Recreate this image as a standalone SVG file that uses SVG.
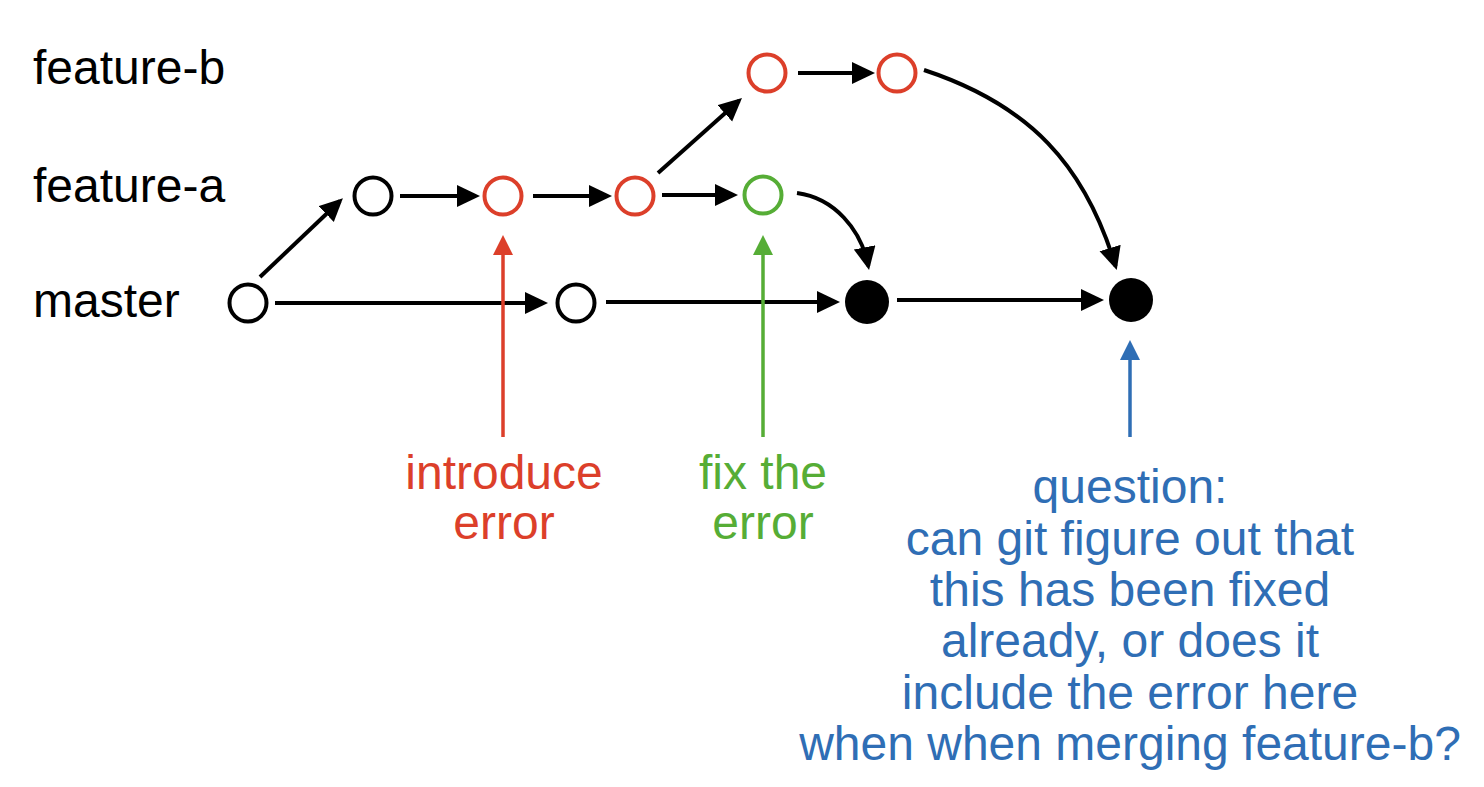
<svg xmlns="http://www.w3.org/2000/svg" width="1484" height="787" viewBox="0 0 1484 787">
<style>
  text { font-family: "Liberation Sans", Arial, sans-serif; font-size: 48px; }
  .lbl { fill: #000; }
  .red { fill: #DC3F2A; }
  .green { fill: #56AD36; }
  .blue { fill: #2F6EB5; }
  .node { fill: #fff; stroke-width: 4; }
  .k { stroke: #000; }
  .r { stroke: #DC3F2A; }
  .g { stroke: #56AD36; }
  .filled { fill: #000; }
  .edge { fill: none; stroke: #000; stroke-width: 4; marker-end: url(#ah); }
  .ptr { fill: none; stroke-width: 3.5; }
</style>
<defs>
  <marker id="ah" markerUnits="userSpaceOnUse" markerWidth="24" markerHeight="24" refX="19" refY="11" orient="auto">
    <path d="M0,0 L23,11 L0,22 z" fill="#000"/>
  </marker>
  <marker id="ahr" markerUnits="userSpaceOnUse" markerWidth="22" markerHeight="22" refX="16" refY="10" orient="auto">
    <path d="M0,0 L20,10 L0,20 z" fill="#DC3F2A"/>
  </marker>
  <marker id="ahg" markerUnits="userSpaceOnUse" markerWidth="22" markerHeight="22" refX="16" refY="10" orient="auto">
    <path d="M0,0 L20,10 L0,20 z" fill="#56AD36"/>
  </marker>
  <marker id="ahb" markerUnits="userSpaceOnUse" markerWidth="22" markerHeight="22" refX="16" refY="10" orient="auto">
    <path d="M0,0 L20,10 L0,20 z" fill="#2F6EB5"/>
  </marker>
</defs>

<g id="branch-labels">
  <text class="lbl" x="33" y="84">feature-b</text>
  <text class="lbl" x="33" y="202">feature-a</text>
  <text class="lbl" x="33" y="317">master</text>
</g>

<g id="connectors">
  <path class="edge" d="M260,277 L340,201"/>
  <path class="edge" d="M400,196 L476,196"/>
  <path class="edge" d="M533,196 L608,196"/>
  <path class="edge" d="M662,195 L734,195"/>
  <path class="edge" d="M658,173 L739,100.7"/>
  <path class="edge" d="M798,73 L871,73"/>
  <path class="edge" d="M275,303 L544,303"/>
  <path class="edge" d="M606,302 L836,302"/>
  <path class="edge" d="M897,300 L1100,300"/>
  <path class="edge" d="M797,193 C834,198 861,229 868.3,266"/>
  <path class="edge" d="M924,70 C1030,105 1085,165 1115.6,266.2"/>
  <path class="ptr" stroke="#DC3F2A" marker-end="url(#ahr)" d="M503,437 L503,239"/>
  <path class="ptr" stroke="#56AD36" marker-end="url(#ahg)" d="M763,437 L763,239"/>
  <path class="ptr" stroke="#2F6EB5" marker-end="url(#ahb)" d="M1130,437 L1130,344"/>
</g>

<g id="node-m1"><circle class="node k" cx="248" cy="303" r="18.5"/></g>
<g id="node-m2"><circle class="node k" cx="576" cy="303" r="18.5"/></g>
<g id="node-a1"><circle class="node k" cx="373" cy="196" r="18.5"/></g>
<g id="node-a2"><circle class="node r" cx="503" cy="196" r="18.5"/></g>
<g id="node-a3"><circle class="node r" cx="635" cy="196" r="18.5"/></g>
<g id="node-a4"><circle class="node g" cx="763" cy="195" r="18.5"/></g>
<g id="node-b1"><circle class="node r" cx="767" cy="73" r="18.5"/></g>
<g id="node-b2"><circle class="node r" cx="897" cy="73" r="18.5"/></g>
<g id="node-merge1"><circle class="filled" cx="867" cy="302" r="22"/></g>
<g id="node-merge2"><circle class="filled" cx="1131" cy="300" r="22"/></g>

<g id="note-introduce">
  <text class="red" x="504" y="489" text-anchor="middle">introduce</text>
  <text class="red" x="504" y="539" text-anchor="middle">error</text>
</g>
<g id="note-fix">
  <text class="green" x="763" y="489" text-anchor="middle">fix the</text>
  <text class="green" x="763" y="539" text-anchor="middle">error</text>
</g>
<g id="note-question">
  <text class="blue" x="1130" y="503" text-anchor="middle">question:</text>
  <text class="blue" x="1130" y="555" text-anchor="middle">can git figure out that</text>
  <text class="blue" x="1130" y="606" text-anchor="middle">this has been fixed</text>
  <text class="blue" x="1130" y="657" text-anchor="middle">already, or does it</text>
  <text class="blue" x="1130" y="709" text-anchor="middle">include the error here</text>
  <text class="blue" x="1130" y="760" text-anchor="middle">when when merging feature-b?</text>
</g>
</svg>
